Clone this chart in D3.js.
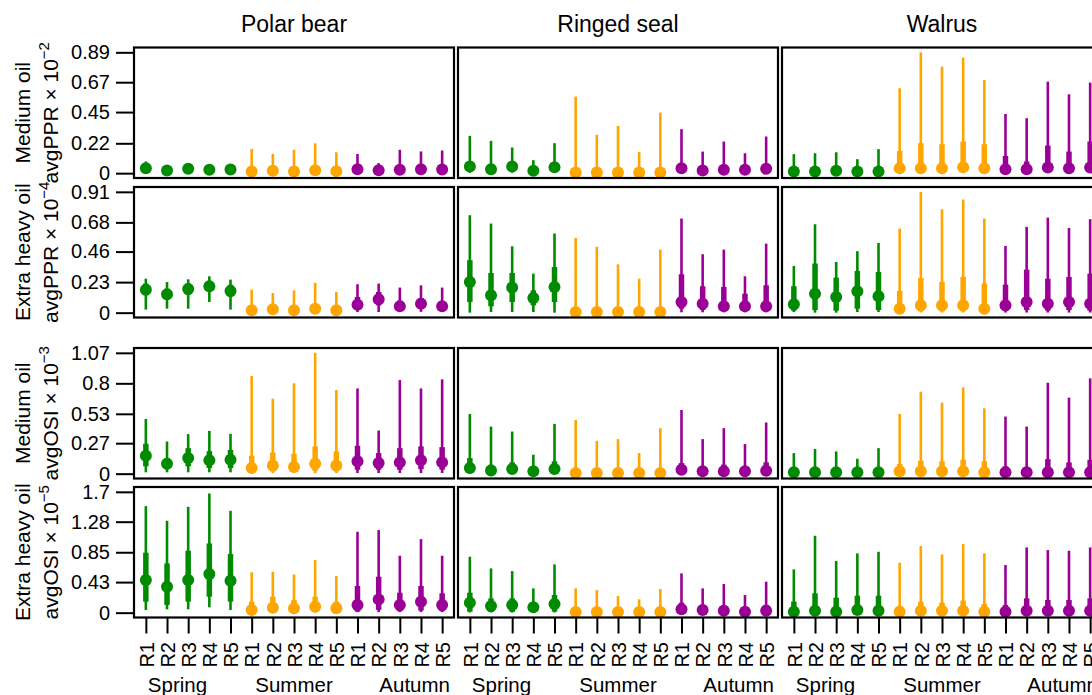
<!DOCTYPE html>
<html>
<head>
<meta charset="utf-8">
<script src="https://cdn.jsdelivr.net/npm/d3@7"></script>
<style>
  html, body { margin: 0; padding: 0; background: #fff; }
  svg { display: block; font-family: "Liberation Sans", Arial, sans-serif; }
</style>
</head>
<body>
<svg id="chart" width="1092" height="695"></svg>
<script>
// ---------------- DATA ----------------
const species = ["Polar bear", "Ringed seal", "Walrus"];
const regions = ["R1", "R2", "R3", "R4", "R5"];
const seasons = ["Spring", "Summer", "Autumn"];
const seasonColors = ["#008B00", "#FFA500", "#9A0096"];

const rowMax = [0.89, 0.91, 1.07, 1.7];
const rowTickLabels = [
  ["0", "0.22", "0.45", "0.67", "0.89"],
  ["0", "0.23", "0.46", "0.68", "0.91"],
  ["0", "0.27", "0.53", "0.8", "1.07"],
  ["0", "0.43", "0.85", "1.28", "1.7"]
];
const rowLabelOil = ["Medium oil", "Extra heavy oil", "Medium oil", "Extra heavy oil"];
const rowLabelMetric = ["avgPPR", "avgPPR", "avgOSI", "avgOSI"];
const rowLabelExp = ["−2", "−4", "−3", "−5"];

// Each panel: median, 50% interval (lo50/hi50), 95% interval (lo95/hi95)
// order: Spring R1-R5, Summer R1-R5, Autumn R1-R5
const polarBearPPRMedium = {
  med:  [0.037,0.020,0.032,0.025,0.027, 0.012,0.017,0.012,0.022,0.015, 0.029,0.022,0.025,0.029,0.027],
  lo50: [0.025,0.012,0.022,0.016,0.018, 0.004,0.006,0.004,0.007,0.005, 0.015,0.012,0.012,0.015,0.013],
  hi50: [0.050,0.030,0.042,0.036,0.038, 0.035,0.040,0.035,0.050,0.035, 0.050,0.035,0.045,0.050,0.048],
  lo95: [0.005,0.004,0.006,0.005,0.005, 0.001,0.001,0.001,0.001,0.001, 0.004,0.004,0.003,0.004,0.003],
  hi95: [0.086,0.050,0.060,0.060,0.060, 0.179,0.142,0.172,0.220,0.154, 0.142,0.074,0.172,0.160,0.167]
};
const polarBearPPRHeavy = {
  med:  [0.173,0.138,0.178,0.199,0.163, 0.018,0.025,0.018,0.030,0.018, 0.060,0.101,0.048,0.068,0.048],
  lo50: [0.131,0.100,0.135,0.160,0.120, 0.005,0.008,0.005,0.010,0.005, 0.025,0.055,0.020,0.030,0.020],
  hi50: [0.219,0.180,0.220,0.240,0.210, 0.045,0.055,0.045,0.065,0.045, 0.118,0.156,0.090,0.110,0.085],
  lo95: [0.023,0.030,0.030,0.080,0.023, 0.001,0.002,0.001,0.002,0.001, 0.005,0.005,0.008,0.006,0.008],
  hi95: [0.256,0.231,0.251,0.274,0.249, 0.173,0.148,0.168,0.224,0.156, 0.214,0.219,0.189,0.206,0.189]
};
const ringedSealPPRMedium = {
  med:  [0.049,0.029,0.049,0.017,0.044, 0.005,0.005,0.005,0.005,0.005, 0.037,0.020,0.025,0.025,0.032],
  lo50: [0.015,0.008,0.015,0.005,0.012, 0.001,0.001,0.001,0.001,0.001, 0.010,0.005,0.007,0.007,0.010],
  hi50: [0.086,0.060,0.070,0.030,0.075, 0.025,0.020,0.022,0.015,0.025, 0.070,0.040,0.050,0.045,0.065],
  lo95: [0.003,0.002,0.003,0.001,0.003, 0.000,0.000,0.000,0.000,0.000, 0.002,0.001,0.002,0.002,0.002],
  hi95: [0.275,0.238,0.189,0.096,0.221, 0.564,0.282,0.348,0.157,0.446, 0.324,0.159,0.233,0.147,0.270]
};
const ringedSealPPRHeavy = {
  med:  [0.231,0.131,0.189,0.111,0.194, 0.005,0.005,0.005,0.005,0.005, 0.080,0.068,0.048,0.048,0.048],
  lo50: [0.080,0.048,0.080,0.055,0.080, 0.001,0.001,0.001,0.001,0.001, 0.030,0.020,0.015,0.015,0.015],
  hi50: [0.395,0.299,0.299,0.168,0.344, 0.030,0.025,0.020,0.020,0.025, 0.289,0.199,0.194,0.143,0.206],
  lo95: [0.000,0.005,0.005,0.005,0.000, 0.000,0.000,0.000,0.000,0.000, 0.003,0.003,0.003,0.003,0.003],
  hi95: [0.734,0.671,0.500,0.294,0.596, 0.563,0.495,0.364,0.256,0.475, 0.709,0.440,0.475,0.274,0.520]
};
const walrusPPRMedium = {
  med:  [0.012,0.012,0.017,0.012,0.012, 0.037,0.037,0.037,0.044,0.037, 0.029,0.029,0.042,0.037,0.042],
  lo50: [0.002,0.002,0.003,0.002,0.002, 0.008,0.008,0.008,0.010,0.008, 0.006,0.006,0.010,0.008,0.010],
  hi50: [0.030,0.030,0.035,0.030,0.035, 0.164,0.221,0.213,0.233,0.213, 0.127,0.086,0.203,0.159,0.233],
  lo95: [0.001,0.001,0.001,0.001,0.001, 0.001,0.001,0.001,0.001,0.001, 0.001,0.001,0.001,0.001,0.001],
  hi95: [0.140,0.147,0.154,0.103,0.177, 0.625,0.890,0.785,0.851,0.686, 0.436,0.405,0.674,0.581,0.667]
};
const walrusPPRHeavy = {
  med:  [0.063,0.143,0.118,0.161,0.123, 0.030,0.055,0.055,0.055,0.030, 0.055,0.080,0.068,0.080,0.068],
  lo50: [0.015,0.020,0.015,0.030,0.020, 0.005,0.010,0.010,0.010,0.005, 0.012,0.020,0.015,0.020,0.015],
  hi50: [0.199,0.370,0.264,0.314,0.307, 0.163,0.261,0.231,0.269,0.219, 0.211,0.324,0.256,0.269,0.294],
  lo95: [0.005,0.000,0.000,0.005,0.005, 0.001,0.001,0.001,0.001,0.001, 0.001,0.001,0.001,0.001,0.001],
  hi95: [0.352,0.666,0.382,0.463,0.525, 0.633,0.910,0.779,0.852,0.709, 0.503,0.646,0.716,0.638,0.704]
};
const polarBearOSIMedium = {
  med:  [0.159,0.088,0.138,0.118,0.123, 0.050,0.073,0.059,0.088,0.073, 0.109,0.094,0.100,0.118,0.100],
  lo50: [0.065,0.041,0.065,0.050,0.050, 0.015,0.020,0.018,0.025,0.020, 0.035,0.035,0.035,0.040,0.035],
  hi50: [0.265,0.138,0.226,0.200,0.210, 0.159,0.188,0.176,0.241,0.197, 0.247,0.182,0.226,0.241,0.235],
  lo95: [0.012,0.012,0.012,0.012,0.012, 0.005,0.005,0.005,0.005,0.005, 0.006,0.006,0.006,0.006,0.006],
  hi95: [0.485,0.285,0.350,0.379,0.353, 0.864,0.664,0.800,1.070,0.741, 0.755,0.382,0.829,0.755,0.835]
};
const polarBearOSIHeavy = {
  med:  [0.459,0.365,0.459,0.543,0.450, 0.037,0.070,0.061,0.084,0.061, 0.108,0.187,0.108,0.155,0.108],
  lo50: [0.155,0.108,0.155,0.225,0.155, 0.010,0.020,0.015,0.025,0.015, 0.014,0.040,0.020,0.030,0.020],
  hi50: [0.843,0.693,0.871,0.974,0.824, 0.155,0.225,0.178,0.225,0.155, 0.375,0.506,0.281,0.375,0.272],
  lo95: [0.037,0.047,0.047,0.075,0.037, 0.003,0.003,0.003,0.003,0.003, 0.008,0.008,0.008,0.008,0.008],
  hi95: [1.499,1.293,1.489,1.677,1.433, 0.567,0.576,0.539,0.740,0.515, 1.138,1.162,0.801,1.035,0.801]
};
const ringedSealOSIMedium = {
  med:  [0.050,0.029,0.041,0.021,0.041, 0.006,0.006,0.006,0.006,0.006, 0.035,0.021,0.021,0.021,0.026],
  lo50: [0.010,0.005,0.008,0.004,0.008, 0.001,0.001,0.001,0.001,0.001, 0.006,0.004,0.004,0.004,0.005],
  hi50: [0.138,0.079,0.100,0.050,0.109, 0.030,0.025,0.025,0.020,0.030, 0.094,0.065,0.080,0.060,0.100],
  lo95: [0.002,0.001,0.002,0.001,0.002, 0.000,0.000,0.000,0.000,0.000, 0.001,0.001,0.001,0.001,0.001],
  hi95: [0.529,0.417,0.373,0.168,0.441, 0.476,0.291,0.306,0.182,0.403, 0.564,0.306,0.403,0.262,0.453]
};
const ringedSealOSIHeavy = {
  med:  [0.140,0.094,0.108,0.075,0.122, 0.010,0.010,0.010,0.010,0.010, 0.047,0.037,0.028,0.014,0.028],
  lo50: [0.014,0.010,0.010,0.010,0.014, 0.001,0.001,0.001,0.001,0.001, 0.006,0.005,0.004,0.002,0.004],
  hi50: [0.281,0.201,0.201,0.140,0.248, 0.040,0.035,0.030,0.025,0.040, 0.140,0.110,0.100,0.060,0.110],
  lo95: [0.003,0.002,0.002,0.002,0.003, 0.000,0.000,0.000,0.000,0.000, 0.001,0.001,0.001,0.001,0.001],
  hi95: [0.787,0.623,0.585,0.342,0.679, 0.342,0.318,0.234,0.187,0.333, 0.553,0.342,0.403,0.248,0.436]
};
const walrusOSIMedium = {
  med:  [0.012,0.012,0.012,0.012,0.012, 0.021,0.021,0.021,0.021,0.012, 0.012,0.012,0.012,0.012,0.012],
  lo50: [0.002,0.002,0.002,0.002,0.002, 0.004,0.004,0.004,0.004,0.002, 0.002,0.002,0.002,0.002,0.002],
  hi50: [0.030,0.035,0.035,0.025,0.040, 0.085,0.115,0.109,0.123,0.109, 0.065,0.035,0.129,0.100,0.123],
  lo95: [0.000,0.000,0.000,0.000,0.000, 0.001,0.001,0.001,0.001,0.000, 0.000,0.000,0.000,0.000,0.000],
  hi95: [0.182,0.218,0.197,0.132,0.226, 0.529,0.726,0.629,0.764,0.579, 0.506,0.417,0.805,0.673,0.844]
};
const walrusOSIHeavy = {
  med:  [0.014,0.028,0.014,0.037,0.028, 0.014,0.028,0.028,0.028,0.014, 0.014,0.028,0.028,0.028,0.028],
  lo50: [0.002,0.004,0.002,0.005,0.004, 0.002,0.004,0.004,0.004,0.002, 0.002,0.004,0.004,0.004,0.004],
  hi50: [0.155,0.272,0.211,0.239,0.239, 0.094,0.155,0.140,0.170,0.120, 0.108,0.201,0.178,0.178,0.201],
  lo95: [0.000,0.000,0.000,0.001,0.000, 0.000,0.000,0.000,0.000,0.000, 0.000,0.000,0.000,0.000,0.000],
  hi95: [0.609,1.082,0.726,0.834,0.857, 0.702,0.937,0.820,0.965,0.834, 0.670,0.918,0.881,0.871,0.918]
};

const panelGrid = [
  [polarBearPPRMedium, ringedSealPPRMedium, walrusPPRMedium],
  [polarBearPPRHeavy,  ringedSealPPRHeavy,  walrusPPRHeavy],
  [polarBearOSIMedium, ringedSealOSIMedium, walrusOSIMedium],
  [polarBearOSIHeavy,  ringedSealOSIHeavy,  walrusOSIHeavy]
];

// ---------------- LAYOUT ----------------
const colLeft = [134, 458, 782];
const panelW = 320;
const rowTop = [47.5, 187, 348, 487];
const panelH = 130.5;
const fontFam = '"Liberation Sans", Arial, sans-serif';

const svg = d3.select("#chart");
const xLabels = [];
seasons.forEach(() => regions.forEach(r => xLabels.push(r)));
const positions = d3.range(1, 16);

function xScaleFor(c) {
  return d3.scaleLinear().domain([1 - 0.56, 15 + 0.56]).range([colLeft[c], colLeft[c] + panelW]);
}
function yScaleFor(r) {
  const m = rowMax[r];
  return d3.scaleLinear().domain([-0.04 * m, 1.04 * m]).range([rowTop[r] + panelH, rowTop[r]]);
}

// column titles
species.forEach((s, c) => {
  svg.append("text")
    .attr("x", colLeft[c] + panelW / 2).attr("y", 32)
    .attr("text-anchor", "middle")
    .style("font-size", "23px").style("fill", "#000")
    .text(s);
});

for (let r = 0; r < 4; r++) {
  const y = yScaleFor(r);
  const cy = rowTop[r] + panelH / 2;
  // y axis labels
  svg.append("text")
    .attr("transform", `translate(30,${cy}) rotate(-90)`)
    .attr("text-anchor", "middle").style("font-size", "21px")
    .text(rowLabelOil[r]);
  const t2 = svg.append("text")
    .attr("transform", `translate(57.5,${cy}) rotate(-90)`)
    .attr("text-anchor", "middle").style("font-size", "21px");
  t2.append("tspan").text(rowLabelMetric[r] + " × 10");
  t2.append("tspan").attr("dy", "-0.55em").style("font-size", "15px").text(rowLabelExp[r]);

  // y axis
  const tickVals = rowTickLabels[r].map(Number);
  const yAxis = d3.axisLeft(y).tickValues(tickVals)
    .tickFormat((d, i) => rowTickLabels[r][i]).tickSize(18).tickPadding(6);
  const gy = svg.append("g").attr("transform", `translate(${colLeft[0]},0)`).call(yAxis);
  gy.select(".domain").remove();
  gy.selectAll(".tick line").attr("stroke", "#000").attr("stroke-width", 2);
  gy.selectAll(".tick text").style("font-size", "20px").style("font-family", fontFam).attr("fill", "#000");

  for (let c = 0; c < 3; c++) {
    const x = xScaleFor(c);
    const p = panelGrid[r][c];
    const g = svg.append("g");
    const idx = d3.range(15);
    // 95% intervals
    g.selectAll("line.thin").data(idx).join("line").attr("class", "thin")
      .attr("x1", i => x(positions[i])).attr("x2", i => x(positions[i]))
      .attr("y1", i => y(p.lo95[i])).attr("y2", i => y(p.hi95[i]))
      .attr("stroke", i => seasonColors[Math.floor(i / 5)]).attr("stroke-width", 2.6);
    // 50% intervals
    g.selectAll("line.thick").data(idx).join("line").attr("class", "thick")
      .attr("x1", i => x(positions[i])).attr("x2", i => x(positions[i]))
      .attr("y1", i => y(p.lo50[i])).attr("y2", i => y(p.hi50[i]))
      .attr("stroke", i => seasonColors[Math.floor(i / 5)]).attr("stroke-width", 5.5);
    // medians
    g.selectAll("circle").data(idx).join("circle")
      .attr("cx", i => x(positions[i])).attr("cy", i => y(p.med[i])).attr("r", 6)
      .attr("fill", i => seasonColors[Math.floor(i / 5)]);
    // panel box
    svg.append("rect")
      .attr("x", colLeft[c]).attr("y", rowTop[r]).attr("width", panelW).attr("height", panelH)
      .attr("fill", "none").attr("stroke", "#000").attr("stroke-width", 2.2);

    if (r === 3) {
      const xAxis = d3.axisBottom(x).tickValues(positions)
        .tickFormat((d, i) => xLabels[i]).tickSize(16);
      const gx = svg.append("g").attr("transform", `translate(0,${rowTop[r] + panelH})`).call(xAxis);
      gx.select(".domain").remove();
      gx.selectAll(".tick line").attr("stroke", "#000").attr("stroke-width", 2);
      gx.selectAll(".tick text")
        .attr("transform", "rotate(-90)")
        .attr("x", -24.5).attr("y", 0).attr("dy", "0.36em")
        .attr("text-anchor", "end")
        .style("font-size", "20px").style("font-family", fontFam).attr("fill", "#000");
      // season labels
      const left = colLeft[c];
      svg.append("text").attr("x", x(1) + 2).attr("y", 692).attr("text-anchor", "start")
        .style("font-size", "20.5px").text(seasons[0]);
      svg.append("text").attr("x", x(8)).attr("y", 692).attr("text-anchor", "middle")
        .style("font-size", "20.5px").text(seasons[1]);
      svg.append("text").attr("x", left + panelW - 4).attr("y", 692).attr("text-anchor", "end")
        .style("font-size", "20.5px").text(seasons[2]);
    }
  }
}
</script>
</body>
</html>
